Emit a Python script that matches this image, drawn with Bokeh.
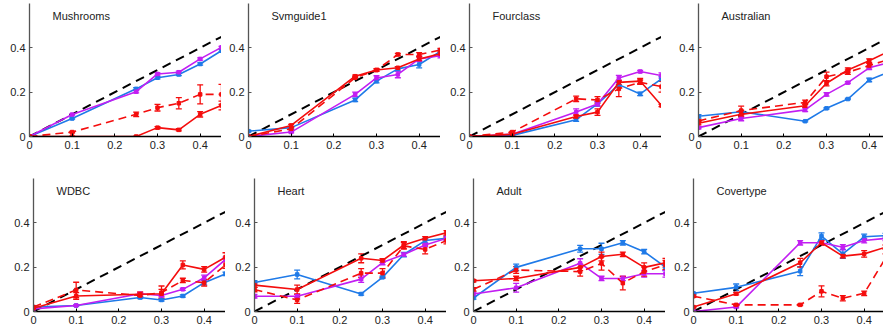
from bokeh.plotting import figure
from bokeh.layouts import row, column
from bokeh.models import ColumnDataSource, Whisker, TeeHead, Label, FixedTicker
from bokeh.embed import file_html
from bokeh.resources import INLINE

# Noise levels along the x axis
X = [0.0, 0.1, 0.25, 0.3, 0.35, 0.4, 0.45]
X_TICKS = [0, 0.1, 0.2, 0.3, 0.4]
X_TICK_LABELS = ["0", "0.1", "0.2", "0.3", "0.4"]
Y_TICKS = [0, 0.2, 0.4]
Y_TICK_LABELS = ["0", "0.2", "0.4"]
X_MAX = 0.45
Y_MAX = 0.6

# --- Mushrooms ---
mushrooms_blue = [0.0, 0.081, 0.215, 0.265, 0.28, 0.327, 0.387]
mushrooms_blue_err = [0.0, 0.003, 0.005, 0.005, 0.005, 0.005, 0.005]
mushrooms_magenta = [0.0, 0.099, 0.202, 0.282, 0.29, 0.35, 0.402]
mushrooms_magenta_err = [0.0, 0.003, 0.005, 0.005, 0.005, 0.005, 0.005]
mushrooms_red = [0.0, 0.0, 0.0, 0.04, 0.03, 0.10, 0.14]
mushrooms_red_err = [0.0, 0.0, 0.0, 0.005, 0.005, 0.012, 0.02]
mushrooms_red_dash = [0.0, 0.02, 0.10, 0.13, 0.15, 0.19, 0.19]
mushrooms_red_dash_err = [0.0, 0.003, 0.01, 0.015, 0.025, 0.043, 0.045]

# --- Svmguide1 ---
svmguide1_blue = [0.024, 0.04, 0.165, 0.25, 0.305, 0.325, 0.384]
svmguide1_blue_err = [0.003, 0.005, 0.008, 0.008, 0.01, 0.015, 0.01]
svmguide1_magenta = [0.0, 0.02, 0.19, 0.264, 0.28, 0.35, 0.365]
svmguide1_magenta_err = [0.0, 0.003, 0.01, 0.01, 0.015, 0.012, 0.01]
svmguide1_red = [0.0, 0.05, 0.272, 0.30, 0.31, 0.35, 0.373]
svmguide1_red_err = [0.003, 0.005, 0.005, 0.005, 0.005, 0.008, 0.008]
svmguide1_red_dash = [0.0, 0.035, 0.265, 0.30, 0.37, 0.37, 0.39]
svmguide1_red_dash_err = [0.002, 0.005, 0.005, 0.005, 0.005, 0.008, 0.008]

# --- Fourclass ---
fourclass_blue = [0.0, 0.005, 0.076, 0.147, 0.234, 0.192, 0.26]
fourclass_blue_err = [0.0, 0.002, 0.008, 0.01, 0.01, 0.008, 0.01]
fourclass_magenta = [0.0, 0.01, 0.11, 0.147, 0.264, 0.293, 0.275]
fourclass_magenta_err = [0.0, 0.002, 0.015, 0.01, 0.012, 0.005, 0.012]
fourclass_red = [0.0, 0.01, 0.09, 0.11, 0.244, 0.25, 0.14]
fourclass_red_err = [0.0, 0.003, 0.008, 0.015, 0.01, 0.012, 0.005]
fourclass_red_dash = [0.0, 0.02, 0.17, 0.165, 0.215, 0.245, 0.225]
fourclass_red_dash_err = [0.0, 0.003, 0.012, 0.015, 0.035, 0.01, 0.025]

# --- Australian ---
australian_blue = [0.091, 0.112, 0.069, 0.127, 0.169, 0.255, 0.294]
australian_blue_err = [0.008, 0.004, 0.003, 0.003, 0.003, 0.008, 0.005]
australian_magenta = [0.04, 0.081, 0.12, 0.19, 0.243, 0.31, 0.335]
australian_magenta_err = [0.005, 0.01, 0.008, 0.008, 0.004, 0.008, 0.008]
australian_red = [0.06, 0.10, 0.139, 0.24, 0.30, 0.342, 0.388]
australian_red_err = [0.008, 0.012, 0.008, 0.012, 0.01, 0.008, 0.008]
australian_red_dash = [0.07, 0.117, 0.154, 0.27, 0.29, 0.32, 0.35]
australian_red_dash_err = [0.005, 0.02, 0.01, 0.02, 0.01, 0.01, 0.01]

# --- WDBC ---
wdbc_blue = [0.02, 0.027, 0.063, 0.052, 0.07, 0.13, 0.17]
wdbc_blue_err = [0.003, 0.003, 0.005, 0.005, 0.005, 0.01, 0.008]
wdbc_magenta = [0.012, 0.027, 0.08, 0.072, 0.10, 0.152, 0.235]
wdbc_magenta_err = [0.003, 0.003, 0.005, 0.005, 0.005, 0.012, 0.01]
wdbc_red = [0.015, 0.07, 0.078, 0.08, 0.21, 0.19, 0.245]
wdbc_red_err = [0.003, 0.015, 0.01, 0.02, 0.018, 0.012, 0.02]
wdbc_red_dash = [0.02, 0.097, 0.072, 0.085, 0.14, 0.13, 0.21]
wdbc_red_dash_err = [0.003, 0.035, 0.008, 0.03, 0.01, 0.015, 0.015]

# --- Heart ---
heart_blue = [0.131, 0.167, 0.079, 0.154, 0.257, 0.32, 0.33]
heart_blue_err = [0.008, 0.02, 0.005, 0.005, 0.01, 0.01, 0.01]
heart_magenta = [0.069, 0.069, 0.146, 0.221, 0.257, 0.30, 0.33]
heart_magenta_err = [0.008, 0.008, 0.015, 0.01, 0.008, 0.008, 0.01]
heart_red = [0.119, 0.099, 0.24, 0.23, 0.30, 0.33, 0.355]
heart_red_err = [0.01, 0.02, 0.02, 0.008, 0.015, 0.008, 0.01]
heart_red_dash = [0.099, 0.052, 0.173, 0.173, 0.296, 0.28, 0.32]
heart_red_dash_err = [0.01, 0.015, 0.02, 0.02, 0.015, 0.02, 0.015]

# --- Adult ---
adult_blue = [0.061, 0.199, 0.283, 0.283, 0.31, 0.27, 0.2]
adult_blue_err = [0.005, 0.015, 0.015, 0.025, 0.01, 0.01, 0.015]
adult_magenta = [0.079, 0.107, 0.218, 0.149, 0.149, 0.17, 0.17]
adult_magenta_err = [0.008, 0.02, 0.02, 0.01, 0.01, 0.015, 0.015]
adult_red = [0.139, 0.149, 0.199, 0.248, 0.258, 0.199, 0.22]
adult_red_err = [0.005, 0.01, 0.015, 0.02, 0.01, 0.02, 0.02]
adult_red_dash = [0.10, 0.187, 0.18, 0.217, 0.128, 0.18, 0.21]
adult_red_dash_err = [0.008, 0.015, 0.02, 0.03, 0.03, 0.02, 0.02]

# --- Covertype ---
covertype_blue = [0.082, 0.109, 0.182, 0.34, 0.26, 0.337, 0.342]
covertype_blue_err = [0.003, 0.015, 0.02, 0.015, 0.02, 0.012, 0.01]
covertype_magenta = [0.0, 0.02, 0.31, 0.31, 0.29, 0.32, 0.33]
covertype_magenta_err = [0.002, 0.003, 0.01, 0.01, 0.012, 0.01, 0.01]
covertype_red = [0.02, 0.08, 0.22, 0.31, 0.25, 0.26, 0.29]
covertype_red_err = [0.003, 0.005, 0.02, 0.01, 0.008, 0.015, 0.01]
covertype_red_dash = [0.069, 0.03, 0.03, 0.091, 0.06, 0.082, 0.24]
covertype_red_dash_err = [0.005, 0.003, 0.003, 0.025, 0.012, 0.01, 0.02]

BLUE = "#1f7ae8"
MAGENTA = "#c21ef2"
RED = "#f40d0d"
FONT = "Liberation Sans"

PANELS = [
    ("Mushrooms", mushrooms_blue, mushrooms_blue_err, mushrooms_magenta, mushrooms_magenta_err,
     mushrooms_red, mushrooms_red_err, mushrooms_red_dash, mushrooms_red_dash_err),
    ("Svmguide1", svmguide1_blue, svmguide1_blue_err, svmguide1_magenta, svmguide1_magenta_err,
     svmguide1_red, svmguide1_red_err, svmguide1_red_dash, svmguide1_red_dash_err),
    ("Fourclass", fourclass_blue, fourclass_blue_err, fourclass_magenta, fourclass_magenta_err,
     fourclass_red, fourclass_red_err, fourclass_red_dash, fourclass_red_dash_err),
    ("Australian", australian_blue, australian_blue_err, australian_magenta, australian_magenta_err,
     australian_red, australian_red_err, australian_red_dash, australian_red_dash_err),
    ("WDBC", wdbc_blue, wdbc_blue_err, wdbc_magenta, wdbc_magenta_err,
     wdbc_red, wdbc_red_err, wdbc_red_dash, wdbc_red_dash_err),
    ("Heart", heart_blue, heart_blue_err, heart_magenta, heart_magenta_err,
     heart_red, heart_red_err, heart_red_dash, heart_red_dash_err),
    ("Adult", adult_blue, adult_blue_err, adult_magenta, adult_magenta_err,
     adult_red, adult_red_err, adult_red_dash, adult_red_dash_err),
    ("Covertype", covertype_blue, covertype_blue_err, covertype_magenta, covertype_magenta_err,
     covertype_red, covertype_red_err, covertype_red_dash, covertype_red_dash_err),
]

# Layout of each panel: left border, frame width, top border, bottom border
PX_PER_UNIT = 192 / X_MAX
LAYOUT = [
    (29, 192, 3, 29), (27, 192, 3, 29), (29, 192, 3, 29), (37, 185, 3, 29),
    (33, 192, 13, 22), (29, 192, 13, 22), (27, 192, 13, 22), (28, 190, 13, 22),
]
FRAME_H = 133


def add_series(p, ys, errs, color, dash=None):
    lower = [y - e for y, e in zip(ys, errs)]
    upper = [y + e for y, e in zip(ys, errs)]
    src = ColumnDataSource(dict(x=X, y=ys, lower=lower, upper=upper))
    kw = dict(line_dash=dash) if dash else {}
    p.line("x", "y", source=src, line_color=color, line_width=1.6, **kw)
    p.scatter("x", "y", source=src, marker="square", size=3.5,
              fill_color=color, line_color=color)
    w = Whisker(source=src, base="x", upper="upper", lower="lower",
                line_color=color, line_width=1.3,
                upper_head=TeeHead(size=6, line_color=color, line_width=1.3),
                lower_head=TeeHead(size=6, line_color=color, line_width=1.3))
    p.add_layout(w)


def make_panel(spec, lay):
    (name, b, be, m, me, r, re_, rd, rde) = spec
    left, fw, top, bottom = lay
    x_end = fw / PX_PER_UNIT
    p = figure(frame_width=fw, frame_height=FRAME_H,
               x_range=(0, x_end), y_range=(0, Y_MAX),
               min_border_left=left, min_border_right=0,
               min_border_top=top, min_border_bottom=bottom,
               output_backend="svg", toolbar_location=None,
               background_fill_color="white", border_fill_color="white")
    p.outline_line_color = None
    p.grid.visible = False

    for ax, ticks, labels in ((p.xaxis, X_TICKS, X_TICK_LABELS),
                              (p.yaxis, Y_TICKS, Y_TICK_LABELS)):
        ax.ticker = FixedTicker(ticks=ticks)
        ax.major_label_overrides = {t: s for t, s in zip(ticks, labels)}
        ax.major_tick_in = 3
        ax.major_tick_out = 0
        ax.minor_tick_line_color = None
        ax.major_label_text_font = FONT
        ax.major_label_text_font_size = "11px"
        ax.major_label_text_color = "#222222"
        ax.major_label_standoff = 4
    p.xaxis.axis_line_color = "black"
    p.xaxis.axis_line_width = 1.3
    p.xaxis.major_tick_line_color = "black"
    p.yaxis.axis_line_color = "#555555"
    p.yaxis.axis_line_width = 1.3
    p.yaxis.major_tick_line_color = "#555555"

    # reference diagonal y = x
    p.line([0, X_MAX], [0, X_MAX], line_color="black", line_width=2,
           line_dash="9 6")

    add_series(p, b, be, BLUE)
    add_series(p, m, me, MAGENTA)
    add_series(p, rd, rde, RED, dash="8 5")
    add_series(p, r, re_, RED)

    p.add_layout(Label(x=23 / PX_PER_UNIT, y=Y_MAX - 12 / (FRAME_H / Y_MAX),
                       text=name, text_font=FONT, text_font_size="11px",
                       text_color="#222222", text_baseline="middle",
                       text_align="left"))
    return p


figs = [make_panel(s, l) for s, l in zip(PANELS, LAYOUT)]
layout = column(row(*figs[:4], spacing=0), row(*figs[4:], spacing=0), spacing=0)

open("out.html", "w").write(file_html(layout, INLINE))
